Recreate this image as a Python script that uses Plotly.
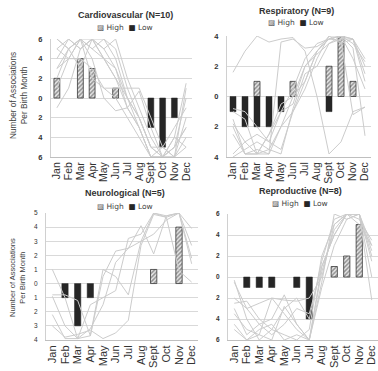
import plotly.graph_objects as go

months = ["Jan", "Feb", "Mar", "Apr", "May", "Jun", "Jul", "Aug", "Sept", "Oct", "Nov", "Dec"]

# Cardiovascular (N=10)
card_high = [2, None, 4, 3, None, 1, None, None, None, None, None, None]
card_low = [None, None, None, None, None, None, None, None, -3, -5, -2, None]
card_lines = [
    [3, 5, 6, 5, 4, 2, 0, -2, -5, -6, -5, -3],
    [-1, 1, 5, 6, 4, 3, -1, -3, -6, -6, -4, 1.5],
    [6, 5, 6, 6, 5, 6, 2, -1, -4, -6, -6, -4],
    [4, 6, 5, 6, 6, 4, 0, -2, -5, -5, -6, -5],
    [5, 4, 4, 3, 1, 1, 1, 1, -2, -5, -3, -1],
    [2, 5, 6, 4, 0, -1.3, -1, 0.7, -3, -6, -5, 0],
    [3, 4, 6, 2, 1, 0, -2, -4, -6, -6, -5, -3],
    [6, 5, 3, 6, 5, 3, 0, -3, -6, -5, -6, -2],
    [1, 4, 6, 5, 6, 5, 1, -2, -5, -6, -4, -5],
    [5, 6, 5, 6, 4, 2, -1, -3, -6, -6, -6, 1],
]

# Respiratory (N=9)
resp_high = [None, None, 1, None, None, 1, None, None, 2, 4, 1, None]
resp_low = [-1, -2, -2, -2, -1, None, None, None, -1, None, None, None]
resp_lines = [
    [1.6, 3, 4, 3.6, 3.8, 3.9, 3, 0, -3.8, -3, -1, -0.7],
    [-1.5, -3.8, -3.8, -3.8, 3.6, 3.8, 3.2, 3.3, 3.8, 4, 3.5, 2.3],
    [-4, -3.5, -3, -3.5, -2, 0, 2, 3, 4, 4, 3.8, 1.5],
    [-1, -1.5, -3.8, -2.5, -1, 0.5, 2.5, 3.5, 3.8, 4, 3.2, -2.6],
    [-2.5, -3.8, -3.5, -3.8, -2, -1, 1, 3, 3.8, 4, 3.8, 1],
    [-3.8, -3, -2.5, -3, -1, -0.5, 2, 2.8, 3.5, 4, 2.5, 0.5],
    [-1.8, -3, -3.8, -3.5, -3.8, -0.8, 1.5, 2, 3.5, 3.8, 3.8, 2],
    [-0.8, -1, -2, -3, -3.5, -1, 0.5, 2.5, 4, 3.5, 3.8, 2.5],
    [-2, -3.8, -3.8, -2.5, -0.5, 0, 1, 3, 3.8, 3.7, -1.2, -0.7],
]

# Neurological (N=5)
neuro_high = [None, None, None, None, None, None, None, None, 1, None, 4, None]
neuro_low = [None, -1, -3, -1, None, None, None, None, None, None, None, None]
neuro_lines = [
    [1, -1, -3.9, -3.7, 1, 0.5, -0.8, 3, 5, 4.8, 5, 2.7],
    [-0.8, -0.8, -1.2, -3.7, 0.5, 2.3, 2.5, 4.1, 2.1, 4.8, 5, 1.4],
    [-2.2, -3.9, -3.9, -3.2, -1.5, 1.5, 2.5, 3, 3.5, 4.5, 5, 3.9],
    [-3, -3.8, -3.6, -3.3, -3.9, -3.5, -2.6, 2.7, 4.9, 4.7, 0.9, 0.1],
    [-0.9, -3, -3.9, -1.5, -1, -0.5, 3.2, 3.5, 5, 4.7, 5, 1.8],
]

# Reproductive (N=8)
repro_high = [None, None, None, None, None, None, None, None, 1, 2, 5, None]
repro_low = [None, -1, -1, -1, None, -1, -4, None, None, None, None, None]
repro_lines = [
    [-0.5, -3, -2.5, -2, -2.2, -2.3, -2, 0, 5, 6, 6, 3],
    [-2, -3, -4.5, -4, -1.7, -4.5, -6, 1, 4, 6, 6, 2],
    [-3.5, -5, -5.5, -2, -3.5, -5, -6, -1, 3, 5.5, 6, -2.2],
    [-4.5, -6, -5, -4.5, -6, -5.5, -6, 0.5, 4.5, 6, 6, 0],
    [-2.5, -2.3, -4, -5, -3, -2, -4, 1.5, 5.5, 6, 5.5, 3.5],
    [-5, -6, -5.5, -6, -2.8, -4.5, -6, -0.5, 6, 5.5, 6, 2.5],
    [-0.3, -4, -6, -5, -5.5, -6, -5, 2, 5, 6, 6, 1.5],
    [-3, -5.5, -4.5, -5.5, -4.5, -3, -3.5, 1, 4, 6, 5, 3],
]

panels = [
    dict(title="Cardiovascular (N=10)", high=card_high, low=card_low, lines=card_lines,
         yr=[-6, 6], tv=[-6, -4, -2, 0, 2, 4, 6],
         xd=[51/378, 192/378], yd=[1-157/371, 1-39/371],
         tpos=(125, 15), lpos=(125, 27), mfs=10.5, tfs=7.5, bold=True),
    dict(title="Respiratory (N=9)", high=resp_high, low=resp_low, lines=resp_lines,
         yr=[-4, 4], tv=[-4, -2, 0, 2, 4],
         xd=[227/378, 371/378], yd=[1-157/371, 1-36/371],
         tpos=(296, 11), lpos=(296, 23), mfs=10.5, tfs=7.5, bold=True),
    dict(title="Neurological (N=5)", high=neuro_high, low=neuro_low, lines=neuro_lines,
         yr=[-4, 5], tv=[-4, -3, -2, -1, 0, 1, 2, 3, 4, 5],
         xd=[46/378, 198/378], yd=[1-340/371, 1-213/371],
         tpos=(125, 193), lpos=(125, 206), mfs=11, tfs=6.5, bold=False),
    dict(title="Reproductive (N=8)", high=repro_high, low=repro_low, lines=repro_lines,
         yr=[-6, 6], tv=[-6, -4, -2, 0, 2, 4, 6],
         xd=[228/378, 378/378], yd=[1-340/371, 1-214/371],
         tpos=(300, 191), lpos=(300, 203), mfs=11, tfs=6.5, bold=True),
]

W, H = 378, 371
fig = go.Figure()
annotations = []
layout = {}
for i, p in enumerate(panels):
    n = i + 1
    xa = "x" if n == 1 else f"x{n}"
    ya = "y" if n == 1 else f"y{n}"
    for ln in p["lines"]:
        fig.add_trace(go.Scatter(x=months, y=ln, mode="lines", xaxis=xa, yaxis=ya,
                                 line=dict(color="#cccccc", width=1), showlegend=False,
                                 hoverinfo="skip"))
    fig.add_trace(go.Bar(x=months, y=p["high"], name="High", xaxis=xa, yaxis=ya, width=0.5,
                         marker=dict(color="white", line=dict(color="#3a3a3a", width=0.8),
                                     pattern=dict(shape="/", fgcolor="#3a3a3a", bgcolor="#e8e8e8",
                                                  size=3, solidity=0.5)),
                         showlegend=False))
    fig.add_trace(go.Bar(x=months, y=p["low"], name="Low", xaxis=xa, yaxis=ya, width=0.5,
                         marker=dict(color="#262626", line=dict(color="#262626", width=0.5)),
                         showlegend=False))
    xk = "xaxis" if n == 1 else f"xaxis{n}"
    yk = "yaxis" if n == 1 else f"yaxis{n}"
    layout[xk] = dict(domain=p["xd"], anchor=ya, type="category", categoryorder="array",
                      categoryarray=months, range=[-0.5, 11.5], tickangle=-90,
                      tickmode="linear", dtick=1, tick0=0,
                      tickfont=dict(size=p["mfs"], color="#333333", family="Liberation Sans, Arial"),
                      showline=True, linecolor="#bfbfbf", linewidth=1, showgrid=False,
                      ticks="", automargin=False, fixedrange=True)
    tt = [(f"<b>{abs(v)}</b>" if p["bold"] else str(abs(v))) for v in p["tv"]]
    layout[yk] = dict(domain=p["yd"], anchor=xa, range=p["yr"], tickvals=p["tv"],
                      ticktext=tt,
                      tickfont=dict(size=p["tfs"], color="#333333", family="Liberation Sans, Arial"),
                      showgrid=True, gridcolor="#d9d9d9", gridwidth=1, zeroline=False,
                      showline=True, linecolor="#d0d0d0", linewidth=1, ticks="",
                      ticklabelstandoff=6, automargin=False, fixedrange=True)
    annotations.append(dict(text=f"<b>{p['title']}</b>", x=p["tpos"][0]/W, y=1-p["tpos"][1]/H,
                            xref="paper", yref="paper", showarrow=False,
                            font=dict(size=9, color="#333333"), xanchor="center", yanchor="middle"))
    annotations.append(dict(text="<span style='color:#555555'>▨</span> High  <span style='color:#262626'>■</span> Low",
                            x=p["lpos"][0]/W, y=1-p["lpos"][1]/H,
                            xref="paper", yref="paper", showarrow=False,
                            font=dict(size=7.5, color="#444444", family="DejaVu Sans, Liberation Sans"),
                            xanchor="center", yanchor="middle"))

annotations.append(dict(text="Number of Associations<br>Per Birth Month", x=18/W, y=1-96/H,
                        xref="paper", yref="paper", showarrow=False, textangle=-90,
                        font=dict(size=8.3, color="#404040"), xanchor="center", yanchor="middle"))
annotations.append(dict(text="Number of Associations<br>Per Birth Month", x=17/W, y=1-278/H,
                        xref="paper", yref="paper", showarrow=False, textangle=-90,
                        font=dict(size=7.5, color="#404040"), xanchor="center", yanchor="middle"))

fig.update_layout(width=W, height=H, margin=dict(l=0, r=0, t=0, b=0),
                  paper_bgcolor="white", plot_bgcolor="white", barmode="relative",
                  font=dict(family="Liberation Sans, Arial"), annotations=annotations,
                  showlegend=False, **layout)
fig.write_html("out.html", config={"displayModeBar": False},
               post_script="document.body.style.margin='0';document.body.style.overflow='hidden';")
